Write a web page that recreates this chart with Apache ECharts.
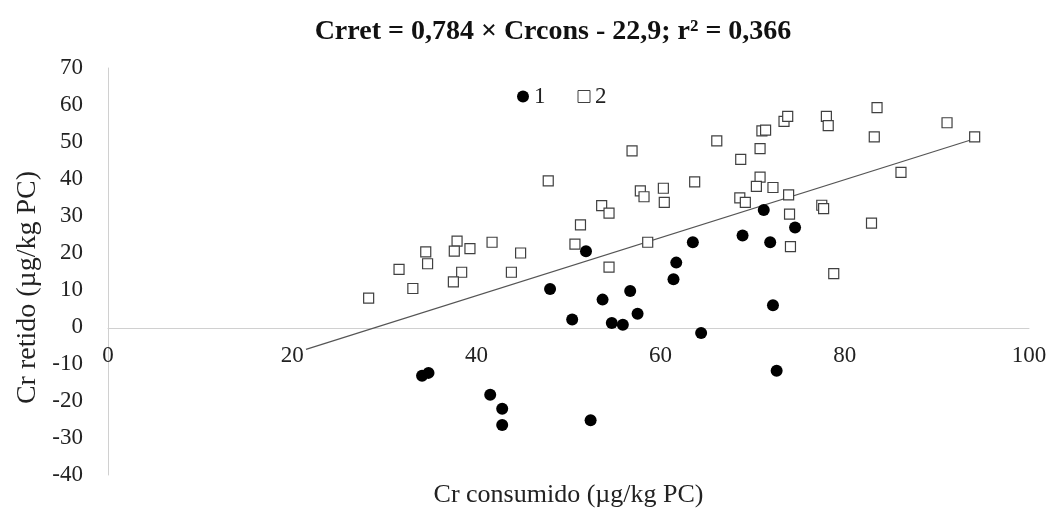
<!DOCTYPE html>
<html><head><meta charset="utf-8">
<script src="https://cdn.jsdelivr.net/npm/echarts@6/dist/echarts.min.js"></script>
<style>html,body{margin:0;padding:0;background:#fff}#c{width:1052px;height:508px}</style>
</head><body><div id="c"></div>
<script>
const titleText = 'Crret = 0,784 × Crcons - 22,9; r² = 0,366';
const xName = 'Cr consumido (µg/kg PC)';
const yName = 'Cr retido (µg/kg PC)';
const seriesNames = ['1', '2'];

const x1 = [51.9,71.2,74.6,68.9,71.9,63.5,61.7,61.4,56.7,53.7,57.5,72.2,50.4,54.7,55.9,64.4,48.0,34.1,34.8,41.5,42.8,42.8,52.4,72.6];
const y1 = [20.5,31.6,26.9,24.7,22.9,22.9,17.4,12.9,9.7,7.4,3.6,5.9,2.0,1.1,0.6,-1.6,10.3,-13.2,-12.4,-18.3,-22.1,-26.5,-25.2,-11.8];

const x2 = [47.8,51.3,50.7,37.9,39.3,41.7,44.8,34.5,37.6,34.7,31.6,38.4,37.5,43.8,33.1,28.3,
  56.9,66.1,68.7,70.8,71.0,71.4,73.4,73.8,78.0,78.2,53.6,54.4,57.8,58.2,60.3,60.4,63.7,58.6,54.4,70.8,70.4,72.2,68.6,69.2,73.9,74.0,77.5,77.7,74.1,78.8,
  83.5,91.1,83.2,94.1,86.1,82.9];
const y2 = [39.5,27.6,22.4,23.2,21.2,22.9,20.0,20.3,20.5,17.1,15.6,14.8,12.2,14.8,10.4,7.8,
  47.6,50.3,45.3,48.2,53.0,53.2,55.6,56.9,56.9,54.4,32.8,30.8,36.8,35.2,37.5,33.7,39.2,22.9,16.2,40.5,38.0,37.7,34.9,33.7,35.7,30.5,32.9,32.0,21.7,14.4,
  59.3,55.2,51.4,51.4,41.8,28.1];

const slope = 0.784, intercept = -22.9;
const trendX = [21.5, 94.1];

const pts = (xs, ys) => xs.map((v, i) => [v, ys[i]]);
const trend = trendX.map(x => [x, slope * x + intercept]);

const font = 'Liberation Serif, Times New Roman, serif';
const chart = echarts.init(document.getElementById('c'));
chart.setOption({
  animation: false,
  backgroundColor: '#fff',
  title: {
    text: titleText, left: 548, top: 13, textAlign: 'center',
    textStyle: {fontFamily: font, fontWeight: 'bold', fontSize: 28, color: '#111'}
  },
  legend: {
    left: 512, top: 80, itemWidth: 12, itemHeight: 12, itemGap: 32,
    data: [{name: seriesNames[0], icon: 'circle'},
           {name: seriesNames[1], icon: 'rect', itemStyle: {color: '#fff', borderColor: '#404040', borderWidth: 1}}],
    textStyle: {fontFamily: font, fontSize: 23, color: '#222'}
  },
  grid: {left: 108, right: 23, top: 68, bottom: 33, containLabel: false, outerBoundsMode: 'none'},
  xAxis: {
    type: 'value', min: 0, max: 100, interval: 20, offset: -147,
    name: xName, nameLocation: 'middle', nameGap: 154,
    nameTextStyle: {fontFamily: font, fontSize: 26, color: '#222'},
    axisLine: {onZero: false, lineStyle: {color: '#d0d0d0', width: 1}},
    axisTick: {show: false}, splitLine: {show: false},
    axisLabel: {fontFamily: font, fontSize: 23, color: '#222', margin: 16}
  },
  yAxis: {
    type: 'value', min: -40, max: 70, interval: 10,
    name: yName, nameLocation: 'middle', nameGap: 64, nameRotate: 90,
    nameTextStyle: {fontFamily: font, fontSize: 28, color: '#222', padding: [0, 32, 0, 0]},
    axisLine: {show: true, onZero: false, lineStyle: {color: '#d0d0d0', width: 1}},
    axisTick: {show: false}, splitLine: {show: false},
    axisLabel: {fontFamily: font, fontSize: 23, color: '#222', margin: 25}
  },
  series: [
    {name: seriesNames[0], type: 'scatter', symbol: 'circle', symbolSize: 12, z: 3,
     itemStyle: {color: '#000', opacity: 1}, data: pts(x1, y1)},
    {name: seriesNames[1], type: 'scatter', symbol: 'rect', symbolSize: 10, z: 3,
     itemStyle: {color: '#fff', borderColor: '#404040', borderWidth: 1.2, opacity: 1}, data: pts(x2, y2)},
    {name: 'trend', type: 'line', data: trend, symbol: 'none', z: 2, silent: true,
     lineStyle: {color: '#555', width: 1.2}}
  ]
});
</script></body></html>
